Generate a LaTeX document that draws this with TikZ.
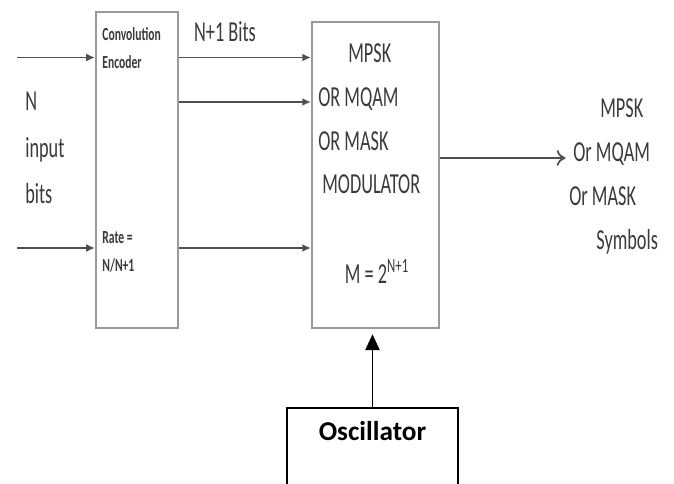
\documentclass[tikz,border=0pt]{standalone}
\usepackage{fontspec}
\setmainfont{Carlito}
\newfontfamily\narrowfont{Carlito}[FakeStretch=0.63]
\usepackage{xcolor}
\usepackage{tikz}
\usetikzlibrary{arrows.meta, positioning}

\definecolor{txtgray}{HTML}{3A3A3A}
\definecolor{boxgray}{HTML}{9A9A9A}
\definecolor{arrgray}{HTML}{505050}

\begin{document}
\begin{tikzpicture}[
    block/.style={rectangle, draw=boxgray, line width=1.1pt, fill=white},
    arr/.style={-{Latex[length=5pt, width=4.5pt]}, arrgray, line width=1.1pt},
    outarr/.style={-{To[length=5pt, width=9pt]}, arrgray, line width=1pt},
    lbl/.style={font=\narrowfont\fontsize{16.5}{25}\selectfont, text=txtgray, inner sep=0pt},
    small/.style={font=\narrowfont\bfseries\fontsize{10.5}{16}\selectfont, text=txtgray, inner sep=0pt, align=left}
  ]
    \useasboundingbox (0,0) rectangle (13.48,-9.68);
    \clip (0,0) rectangle (13.48,-9.68);

    % blocks
    \node[block, minimum width=1.64cm, minimum height=6.32cm] (enc) at (2.74,-3.40) {};
    \node[block, minimum width=2.54cm, minimum height=6.12cm] (mod) at (7.51,-3.50) {};
    \node[rectangle, draw=black, line width=1.1pt, minimum width=3.42cm, minimum height=2.2cm,
          font=\bfseries\fontsize{15.5}{18}\selectfont, text height=0.3cm, text depth=1.2cm]
          (osc) at (7.45,-9.26) {Oscillator};

    % texts
    \node[small, anchor=north west] (conv) at (2.04,-0.54) {Convolution\\Encoder};
    \node[small, anchor=north west] (rate) at (2.04,-4.62) {Rate =\\N/N+1};
    \node[lbl, align=left, anchor=north west] (modtxt) at (6.36,-0.86)
      {\hspace*{0.6cm}MPSK\\OR MQAM\\OR MASK\\\hspace*{0.08cm}MODULATOR};
    \node[lbl] (mval) at (7.54,-5.42) {M = 2\textsuperscript{N+1}};
    \node[lbl] (bits) at (4.5,-0.64) {N+1 Bits};
    \node[lbl, align=left, anchor=west, font=\narrowfont\fontsize{16.5}{26.6}\selectfont] (nin) at (0.5,-2.96) {N\\input\\bits};
    \node[lbl, align=left, anchor=west] (symb) at (11.38,-3.53)
      {\hspace*{0.62cm}MPSK\\\hspace*{0.08cm}Or MQAM\\Or MASK\\\hspace*{0.54cm}Symbols};

    % connectors
    \coordinate (in1) at (0.34,-1.15);
    \coordinate (in2) at (0.34,-4.96);
    \coordinate (mid) at (0,-2.04);
    \coordinate (outy) at (0,-3.16);

    \draw[arr] (in1) -- (in1 -| enc.west);
    \draw[arr] (in2) -- (in2 -| enc.west);
    \draw[arr] (enc.east |- in1) -- (mod.west |- in1);
    \draw[arr] (enc.east |- mid) -- (mod.west |- mid);
    \draw[arr] (enc.east |- in2) -- (mod.west |- in2);
    \draw[outarr] (mod.east |- outy) -- ([xshift=-2pt]symb.west |- outy);
    \draw[-{Triangle[length=9pt, width=8pt]}, line width=1.1pt, shorten >=3pt]
      (osc.north) -- (osc.north |- mod.south);
\end{tikzpicture}
\end{document}
